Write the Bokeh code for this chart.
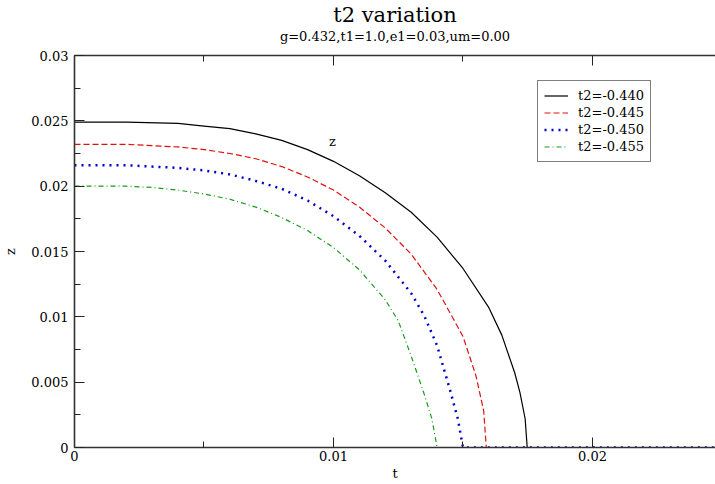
from bokeh.plotting import figure
from bokeh.models import Range1d, FixedTicker, LinearAxis, Title, Label, Legend, LegendItem
from bokeh.embed import file_html
from bokeh.resources import INLINE

# ---- data ----
t_440 = [0, 0.002, 0.004, 0.005, 0.006, 0.007, 0.008, 0.009, 0.010, 0.011, 0.012, 0.013,
         0.014, 0.015, 0.016, 0.0165, 0.017, 0.0172, 0.0174, 0.01748, 0.025]
z_440 = [0.0249, 0.0249, 0.0248, 0.0246, 0.0244, 0.0240, 0.0235, 0.0228, 0.0219, 0.0208,
         0.0195, 0.0180, 0.0161, 0.0137, 0.0107, 0.0086, 0.0057, 0.0042, 0.0022, 0.0, 0.0]

t_445 = [0, 0.002, 0.004, 0.005, 0.006, 0.007, 0.008, 0.009, 0.010, 0.011, 0.012, 0.013,
         0.014, 0.015, 0.0155, 0.0158, 0.0159, 0.025]
z_445 = [0.0232, 0.0232, 0.0230, 0.0228, 0.0225, 0.0221, 0.0215, 0.0207, 0.0197, 0.0184,
         0.0168, 0.0148, 0.0121, 0.0085, 0.0055, 0.0028, 0.0, 0.0]

t_450 = [0, 0.002, 0.004, 0.005, 0.006, 0.007, 0.008, 0.009, 0.010, 0.011, 0.012, 0.013,
         0.0135, 0.014, 0.0145, 0.0148, 0.0150, 0.025]
z_450 = [0.0216, 0.0216, 0.0214, 0.0212, 0.0209, 0.0204, 0.0198, 0.0189, 0.0177, 0.0162,
         0.0143, 0.0118, 0.0101, 0.0078, 0.0044, 0.0022, 0.0, 0.0]

t_455 = [0, 0.002, 0.003, 0.004, 0.005, 0.006, 0.007, 0.008, 0.009, 0.010, 0.011, 0.012,
         0.0125, 0.013, 0.0135, 0.0138, 0.0140, 0.025]
z_455 = [0.0200, 0.0200, 0.0199, 0.0197, 0.0194, 0.0190, 0.0184, 0.0176, 0.0166, 0.0153,
         0.0136, 0.0113, 0.0097, 0.0070, 0.0041, 0.0022, 0.0, 0.0]

series_labels = ["t2=-0.440", "t2=-0.445", "t2=-0.450", "t2=-0.455"]

x_ticks = [0, 0.01, 0.02]
x_minor = [0.005, 0.015]
x_tick_labels = ["0", "0.01", "0.02"]
y_ticks = [0, 0.005, 0.01, 0.015, 0.02, 0.025, 0.03]
y_minor = [0.0025, 0.0075, 0.0125, 0.0175, 0.0225, 0.0275]
y_tick_labels = ["0", "0.005", "0.01", "0.015", "0.02", "0.025", "0.03"]

title_text = "t2 variation"
subtitle_text = "g=0.432,t1=1.0,e1=0.03,um=0.00"
x_label = "t"
y_label = "z"
note_text = "z"
note_t, note_z = 0.00996, 0.0234

SERIF = "DejaVu Serif"

p = figure(width=715, height=484, x_range=Range1d(0, 0.02475), y_range=Range1d(0, 0.03),
           output_backend="svg", toolbar_location=None, title=None,
           min_border_left=74, min_border_right=0, min_border_top=55, min_border_bottom=37)
p.xgrid.visible = False
p.ygrid.visible = False
p.outline_line_color = None
p.background_fill_color = "white"
p.border_fill_color = "white"

bottom_axis = p.below[0]
left_axis = p.left[0]

# top axis (frame line + inward ticks, no labels; blank label keeps a gap under the subtitle)
top_axis = LinearAxis(ticker=FixedTicker(ticks=x_ticks, minor_ticks=x_minor))
top_axis.major_label_text_font_size = "0px"
top_axis.major_label_standoff = 0
top_axis.major_label_overrides = {v: "" for v in x_ticks}
top_axis.axis_label = " "
top_axis.axis_label_text_font_size = "8px"
top_axis.axis_label_standoff = 0
p.add_layout(top_axis, "above")

sub = Title(text=subtitle_text, align="center", text_font=SERIF, text_font_size="13px",
            text_font_style="normal", text_color="black", standoff=0, offset=0)
p.add_layout(sub, "above")
ttl = Title(text=title_text, align="center", text_font=SERIF, text_font_size="21px",
            text_font_style="normal", text_color="black", standoff=0, offset=0)
p.add_layout(ttl, "above")

bottom_axis.ticker = FixedTicker(ticks=x_ticks, minor_ticks=x_minor)
left_axis.ticker = FixedTicker(ticks=y_ticks, minor_ticks=y_minor)
bottom_axis.major_label_overrides = {v: s for v, s in zip(x_ticks, x_tick_labels)}
left_axis.major_label_overrides = {v: s for v, s in zip(y_ticks, y_tick_labels)}
bottom_axis.axis_label = x_label
left_axis.axis_label = y_label

for ax in [bottom_axis, left_axis, top_axis]:
    ax.axis_line_color = "#333333"
    ax.axis_line_width = 1.6
    ax.major_tick_line_color = "#222222"
    ax.minor_tick_line_color = "#222222"
    ax.major_tick_in = 10
    ax.major_tick_out = 0
    ax.minor_tick_in = 6
    ax.minor_tick_out = 0
    ax.major_label_text_font = SERIF
    ax.major_label_text_color = "black"
    ax.axis_label_text_font = SERIF
    ax.axis_label_text_font_style = "normal"
    ax.axis_label_text_color = "black"

bottom_axis.major_label_text_font_size = "13px"
left_axis.major_label_text_font_size = "13px"
bottom_axis.axis_label_text_font_size = "13px"
left_axis.axis_label_text_font_size = "13px"
bottom_axis.major_label_standoff = 3
bottom_axis.axis_label_standoff = 2
left_axis.major_label_standoff = 6
left_axis.axis_label_standoff = 10

r1 = p.line(t_440, z_440, line_color="black", line_width=1.2)
r2 = p.line(t_445, z_445, line_color="#e01010", line_width=1.2, line_dash="6 3")
r3 = p.line(t_450, z_450, line_color="#0000c8", line_width=2.5, line_dash="2 5")
r4 = p.line(t_455, z_455, line_color="#1a9a1a", line_width=1.2, line_dash="5 3 1 3")

legend = Legend(items=[LegendItem(label=series_labels[0], renderers=[r1]),
                       LegendItem(label=series_labels[1], renderers=[r2]),
                       LegendItem(label=series_labels[2], renderers=[r3]),
                       LegendItem(label=series_labels[3], renderers=[r4])],
                location=(463, 285))
legend.border_line_color = "black"
legend.border_line_width = 1
legend.background_fill_color = "white"
legend.background_fill_alpha = 1
legend.label_text_font = SERIF
legend.label_text_font_size = "13px"
legend.label_text_color = "black"
legend.glyph_width = 24
legend.glyph_height = 17
legend.label_height = 17
legend.label_standoff = 10
legend.spacing = 0
legend.padding = 6
legend.margin = 0
p.add_layout(legend, "center")

p.add_layout(Label(x=note_t, y=note_z, text=note_text, text_font=SERIF, text_font_size="13px",
                   text_align="center", text_baseline="middle", text_color="black"))

open("out.html", "w").write(file_html(p, INLINE))
